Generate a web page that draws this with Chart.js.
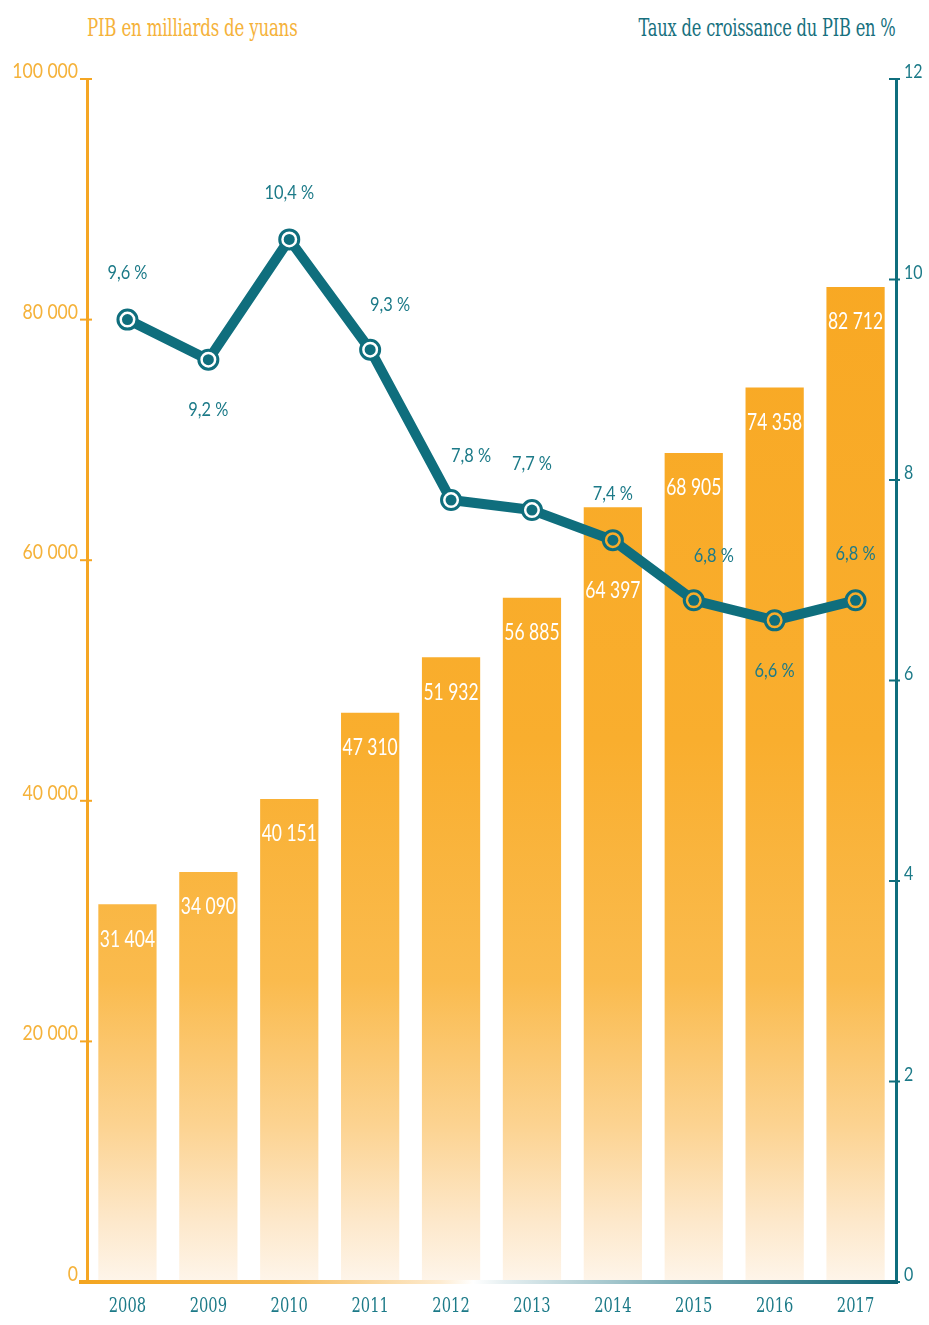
<!DOCTYPE html>
<html><head><meta charset="utf-8">
<script src="https://cdn.jsdelivr.net/npm/chart.js@4/dist/chart.umd.min.js"></script>
<style>
body{margin:0;background:#fff;width:929px;height:1325px;position:relative;overflow:hidden}
#c{position:absolute;left:0;top:0}
.t{position:absolute;top:13px;font-family:"DejaVu Serif",serif;font-size:25px;white-space:nowrap;letter-spacing:-0.3px}
#tl{left:87px;color:#F5B23A;transform:scaleX(0.665);transform-origin:left center}
#tr{right:33px;color:#17707E;transform:scaleX(0.65);transform-origin:right center}
</style></head><body>
<div class="t" id="tl">PIB en milliards de yuans</div>
<div class="t" id="tr">Taux de croissance du PIB en %</div>
<canvas id="c" width="929" height="1325"></canvas>
<script>
const years = ['2008','2009','2010','2011','2012','2013','2014','2015','2016','2017'];
const gdp = [31404,34090,40151,47310,51932,56885,64397,68905,74358,82712];
const growth = [9.6,9.2,10.4,9.3,7.8,7.7,7.4,6.8,6.6,6.8];
const gdpLabels = ['31 404','34 090','40 151','47 310','51 932','56 885','64 397','68 905','74 358','82 712'];
const growthLabels = ['9,6 %','9,2 %','10,4 %','9,3 %','7,8 %','7,7 %','7,4 %','6,8 %','6,6 %','6,8 %'];
const leftTickValues = [0,20000,40000,60000,80000,100000];
const rightTickValues = [0,2,4,6,8,10,12];
// label placement for growth labels: a = above, b = below, r = above-right
const growthPlace = ['a','b','a','r','r','a','a','r','b','a'];
// bar label placement: t = near top, l = pushed below the line
const gdpPlace = ['t','t','t','t','t','t','l','t','t','t'];

const ORANGE = '#F5A623', ORANGE_TXT = '#F5B23A', TEAL = '#0F6E7D', TEAL_TXT = '#1C7A88';
const SANS = 'Lato, "DejaVu Sans", sans-serif';
const SLAB = '"DejaVu Serif", serif';

let barGrad = null, gradKey = '';
function getBarGrad(chart){
  const ca = chart.chartArea;
  if(!ca) return ORANGE;
  const k = ca.top + '_' + ca.bottom;
  if(!barGrad || gradKey !== k){
    const g = chart.ctx.createLinearGradient(0, ca.top, 0, ca.bottom);
    g.addColorStop(0, '#F8A61F');
    g.addColorStop(0.55, '#F9AE2E');
    g.addColorStop(0.75, '#FABB4E');
    g.addColorStop(0.87, '#FCD391');
    g.addColorStop(0.95, '#FDE8CB');
    g.addColorStop(1, '#FEF5EA');
    barGrad = g; gradKey = k;
  }
  return barGrad;
}
function fmt(v){ return String(v).replace(/\B(?=(\d{3})+(?!\d))/g,' '); }
function txt(ctx, s, x, y, font, color, align, sx){
  ctx.save();
  ctx.translate(x, y); ctx.scale(sx, 1);
  ctx.font = font; ctx.fillStyle = color; ctx.textAlign = align; ctx.textBaseline = 'middle';
  ctx.fillText(s, 0, 0);
  ctx.restore();
}

const deco = {
  id:'deco',
  afterDatasetDraw(chart, args){
    if(args.index !== 0) return;
    const ctx = chart.ctx; const meta = chart.getDatasetMeta(0);
    meta.data.forEach((b,i)=>{
      const dy = gdpPlace[i] === 'l' ? 83 : 35;
      txt(ctx, gdpLabels[i], b.x, b.y + dy, '23px ' + SANS, '#FFFFFF', 'center', 0.76);
    });
  },
  afterDatasetsDraw(chart){
    const ctx = chart.ctx;
    const bars = chart.getDatasetMeta(0).data;
    const pts = chart.getDatasetMeta(1).data;
    ctx.save();
    pts.forEach((p,i)=>{
      const inside = p.y > bars[i].y;
      ctx.beginPath(); ctx.arc(p.x, p.y, 9.5, 0, Math.PI*2);
      ctx.fillStyle = inside ? getBarGrad(chart) : '#FFFFFF'; ctx.fill();
      ctx.lineWidth = 3; ctx.strokeStyle = TEAL; ctx.stroke();
      ctx.beginPath(); ctx.arc(p.x, p.y, 5.5, 0, Math.PI*2);
      ctx.fillStyle = TEAL; ctx.fill();
    });
    ctx.restore();
    pts.forEach((p,i)=>{
      const pl = growthPlace[i];
      let dx = 0, dy = -47;
      if(pl==='b') dy = 50;
      if(pl==='r') { dx = 20; dy = -45; }
      txt(ctx, growthLabels[i], p.x + dx, p.y + dy, '20px ' + SANS, TEAL_TXT, 'center', 0.82);
    });
  },
  afterDraw(chart){
    const ctx = chart.ctx, ca = chart.chartArea;
    const yL = chart.scales.y, yR = chart.scales.y1, x = chart.scales.x;
    ctx.save();
    ctx.lineWidth = 2;
    ctx.strokeStyle = ORANGE;
    leftTickValues.forEach(v=>{ const y = yL.getPixelForValue(v); ctx.beginPath(); ctx.moveTo(ca.left-7, y); ctx.lineTo(ca.left+5, y); ctx.stroke(); });
    ctx.strokeStyle = TEAL;
    rightTickValues.forEach(v=>{ const y = yR.getPixelForValue(v); ctx.beginPath(); ctx.moveTo(ca.right-7, y); ctx.lineTo(ca.right+4, y); ctx.stroke(); });
    const g = ctx.createLinearGradient(ca.left-8, 0, ca.right+4, 0);
    g.addColorStop(0, '#F3A41E');
    g.addColorStop(0.25, '#F6BC5A');
    g.addColorStop(0.44, '#FDEBD0');
    g.addColorStop(0.48, '#FFFFFF');
    g.addColorStop(0.52, '#E4EEF0');
    g.addColorStop(0.72, '#7FAFB8');
    g.addColorStop(1, '#0C6373');
    ctx.strokeStyle = g; ctx.lineWidth = 4;
    ctx.beginPath(); ctx.moveTo(ca.left-8, ca.bottom); ctx.lineTo(ca.right+2, ca.bottom); ctx.stroke();
    ctx.restore();
    leftTickValues.forEach(v=>{ txt(ctx, fmt(v), ca.left-9, yL.getPixelForValue(v)-8, '22px ' + SANS, ORANGE_TXT, 'right', 0.8); });
    rightTickValues.forEach(v=>{ txt(ctx, String(v), ca.right+8, yR.getPixelForValue(v)-7, '20px ' + SANS, TEAL_TXT, 'left', 0.8); });
    years.forEach((yr,i)=>{ txt(ctx, yr, x.getPixelForValue(i), ca.bottom+25, '21px ' + SLAB, TEAL_TXT, 'center', 0.7); });
  }
};

new Chart(document.getElementById('c'), {
  data:{
    labels: years,
    datasets:[
      { type:'bar', data:gdp, yAxisID:'y', order:2,
        backgroundColor:(c)=>getBarGrad(c.chart), borderWidth:0,
        categoryPercentage:1, barPercentage:0.72 },
      { type:'line', data:growth, yAxisID:'y1', order:1,
        borderColor:TEAL, borderWidth:10, pointRadius:0, tension:0, fill:false,
        borderJoinStyle:'round', borderCapStyle:'round' }
    ]
  },
  options:{
    responsive:false, animation:false,
    layout:{ padding:{ top:79, left:0, right:0, bottom:0 } },
    plugins:{ legend:{display:false}, tooltip:{enabled:false} },
    scales:{
      x:{ grid:{display:false}, border:{display:false},
          ticks:{ display:false },
          afterFit(s){ s.height = 43; } },
      y:{ position:'left', min:0, max:100000,
          afterBuildTicks(s){ s.ticks = leftTickValues.map(v=>({value:v})); },
          grid:{display:false}, border:{display:true, color:ORANGE, width:3},
          ticks:{ display:false },
          afterFit(s){ s.width = 87; } },
      y1:{ position:'right', min:0, max:12,
          afterBuildTicks(s){ s.ticks = rightTickValues.map(v=>({value:v})); },
          grid:{display:false}, border:{display:true, color:TEAL, width:3},
          ticks:{ display:false },
          afterFit(s){ s.width = 33; } }
    }
  },
  plugins:[deco]
});
</script>
</body></html>
